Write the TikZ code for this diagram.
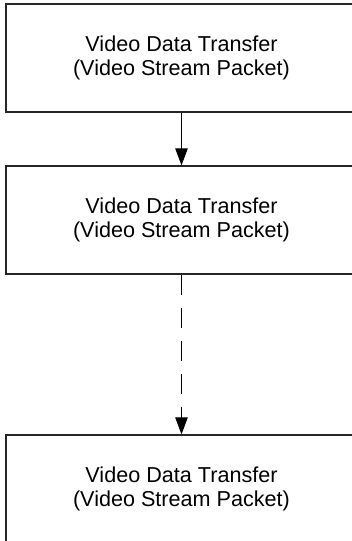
\documentclass[tikz,border=0pt]{standalone}
\usepackage{fontspec}
\setmainfont{Liberation Sans}
\usetikzlibrary{arrows.meta}
\begin{document}
\begin{tikzpicture}[x=1pt,y=-1pt,
  stepbox/.style={draw=black!85, line width=1.3pt, minimum width=351pt, minimum height=108pt,
    inner sep=0pt, align=center, font=\fontsize{21.6}{24.6}\selectfont},
  conn/.style={line width=1pt, -{Triangle[length=17pt,width=12.5pt]}},
  dashconn/.style={conn, dash pattern=on 20pt off 13pt}]
\useasboundingbox (0,0) rectangle (352,541);
\clip (0,0) rectangle (352,541);
\node[stepbox] (b1) at (181.5,58) {Video Data Transfer\\(Video Stream Packet)};
\node[stepbox] (b2) at (181.5,220) {Video Data Transfer\\(Video Stream Packet)};
\node[stepbox] (b3) at (181.5,489) {Video Data Transfer\\(Video Stream Packet)};
\draw[conn] (b1.south) -- (b2.north);
\draw[dashconn] (b2.south) -- (b3.north);
\end{tikzpicture}
\end{document}
